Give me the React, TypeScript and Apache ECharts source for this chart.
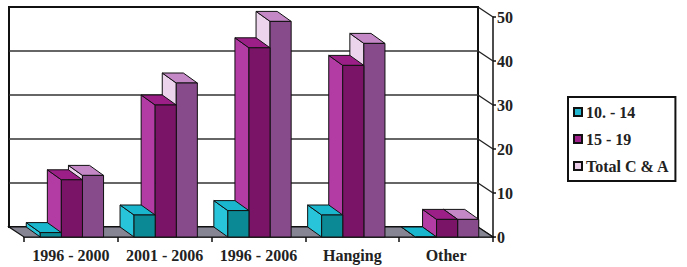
import React, { useEffect, useRef } from "react";
import * as echarts from "echarts";

const categories = ["1996 - 2000", "2001 - 2006", "1996 - 2006", "Hanging", "Other"];
const seriesNames = ["10. - 14", "15 - 19", "Total C & A"];
const age10to14 = [1, 5, 6, 5, 0];
const age15to19 = [13, 30, 43, 39, 4];
const totalCA = [14, 35, 49, 44, 4];
const yTicks = [0, 10, 20, 30, 40, 50];

const seriesValues = [age10to14, age15to19, totalCA];
const faceColors = [
  { legend: "#22b8d2", front: "#0b8a96", side: "#27c4da", top: "#1ab6cd" },
  { legend: "#a0208c", front: "#7a1466", side: "#b23ca4", top: "#9c1f88" },
  { legend: "#e8cce8", front: "#874a8b", side: "#ecd4ec", top: "#c488c6" },
];

const WALL_DX = 15;
const WALL_DY = 10;
const BAR_DX = 14;
const BAR_DY = 10;
const FONT = "'Liberation Serif', 'DejaVu Serif', serif";

export default function App() {
  const ref = useRef<HTMLDivElement>(null);
  useEffect(() => {
    if (!ref.current) return;
    const chart = echarts.init(ref.current, null, { renderer: "svg" });

    const envSeries: any = {
      type: "custom",
      name: "env",
      silent: true,
      data: [[0, 0]],
      renderItem: (params: any, api: any) => {
        const cs = params.coordSys;
        const fx0 = cs.x, fx1 = cs.x + cs.width, fy0 = cs.y, fy1 = cs.y + cs.height;
        const bx0 = fx0 - WALL_DX, bx1 = fx1 - WALL_DX, by0 = fy0 - WALL_DY, by1 = fy1 - WALL_DY;
        const children: any[] = [];
        children.push({
          type: "rect",
          shape: { x: bx0, y: by0, width: bx1 - bx0, height: by1 - by0 },
          style: { fill: "#ffffff", stroke: "#111", lineWidth: 2 },
        });
        yTicks.forEach((v) => {
          const yf = api.coord([0, v])[1];
          const yb = yf - WALL_DY;
          if (v > 0 && v < yTicks[yTicks.length - 1]) {
            children.push({
              type: "line",
              shape: { x1: bx0, y1: yb, x2: bx1, y2: yb },
              style: { stroke: "#333", lineWidth: 1.6 },
            });
          }
          children.push({
            type: "line",
            shape: { x1: bx1, y1: yb, x2: fx1, y2: yf },
            style: { stroke: "#222", lineWidth: 1.4 },
          });
        });
        children.push({
          type: "polygon",
          shape: { points: [[bx0, by1], [bx1, by1], [fx1, fy1], [fx0, fy1]] },
          style: { fill: "#858594", stroke: "#111", lineWidth: 1.2 },
        });
        return { type: "group", children };
      },
      z: 1,
    };

    const barSeries = [2, 1, 0].map((s) => ({
      type: "custom",
      name: seriesNames[s],
      itemStyle: { color: faceColors[s].legend, borderColor: "#111", borderWidth: 1 },
      data: seriesValues[s].map((v, i) => [i, v]),
      renderItem: (params: any, api: any) => {
        const idx = api.value(0);
        const v = api.value(1);
        const base = api.coord([idx, 0]);
        const top = api.coord([idx, v]);
        const bw = api.size([1, 0])[0];
        const w = bw * 0.225;
        const x0 = base[0] + (s - 1.5) * w + 1;
        const x1 = x0 + w;
        const yb = base[1];
        const yt = top[1];
        const c = faceColors[s];
        const stroke = { stroke: "#111", lineWidth: 1 };
        return {
          type: "group",
          children: [
            {
              type: "polygon",
              shape: { points: [[x0, yb], [x0, yt], [x0 - BAR_DX, yt - BAR_DY], [x0 - BAR_DX, yb - BAR_DY]] },
              style: { fill: c.side, ...stroke },
            },
            {
              type: "polygon",
              shape: { points: [[x0, yt], [x1, yt], [x1 - BAR_DX, yt - BAR_DY], [x0 - BAR_DX, yt - BAR_DY]] },
              style: { fill: c.top, ...stroke },
            },
            {
              type: "rect",
              shape: { x: x0, y: yt, width: w, height: yb - yt },
              style: { fill: c.front, ...stroke },
            },
          ],
        };
      },
      z: 2,
    }));

    chart.setOption({
      animation: false,
      backgroundColor: "#ffffff",
      grid: { left: 24, top: 17, width: 469, height: 220, containLabel: false },
      legend: {
        data: seriesNames,
        orient: "vertical",
        left: 568,
        top: 97,
        padding: [7, 6, 7, 5],
        itemGap: 11,
        itemWidth: 8,
        itemHeight: 8,
        icon: "rect",
        borderColor: "#111",
        borderWidth: 2,
        backgroundColor: "#fff",
        selectedMode: false,
        textStyle: { fontFamily: FONT, fontWeight: "bold", fontSize: 16, color: "#222", padding: [0, 0, 0, -1] },
      },
      xAxis: {
        type: "category",
        data: categories,
        boundaryGap: true,
        axisLine: { show: true, lineStyle: { color: "#111", width: 1.5 } },
        axisTick: { show: true, interval: 0, length: 5, lineStyle: { color: "#111", width: 1.5 } },
        axisLabel: { interval: 0, margin: 10, fontFamily: FONT, fontWeight: "bold", fontSize: 16, color: "#222" },
        splitLine: { show: false },
      },
      yAxis: {
        type: "value",
        position: "right",
        min: 0,
        max: 50,
        interval: 10,
        axisLine: { show: true, lineStyle: { color: "#111", width: 1.5 } },
        axisTick: { show: true, length: 3, lineStyle: { color: "#111", width: 1.5 } },
        axisLabel: { margin: 4, fontFamily: FONT, fontWeight: "bold", fontSize: 16, color: "#222" },
        splitLine: { show: false },
      },
      series: [envSeries, ...barSeries],
    });
    return () => chart.dispose();
  }, []);
  return (
    <div
      ref={ref}
      style={{ position: "fixed", left: 0, top: 0, width: 687, height: 267, background: "#fff" }}
    />
  );
}
